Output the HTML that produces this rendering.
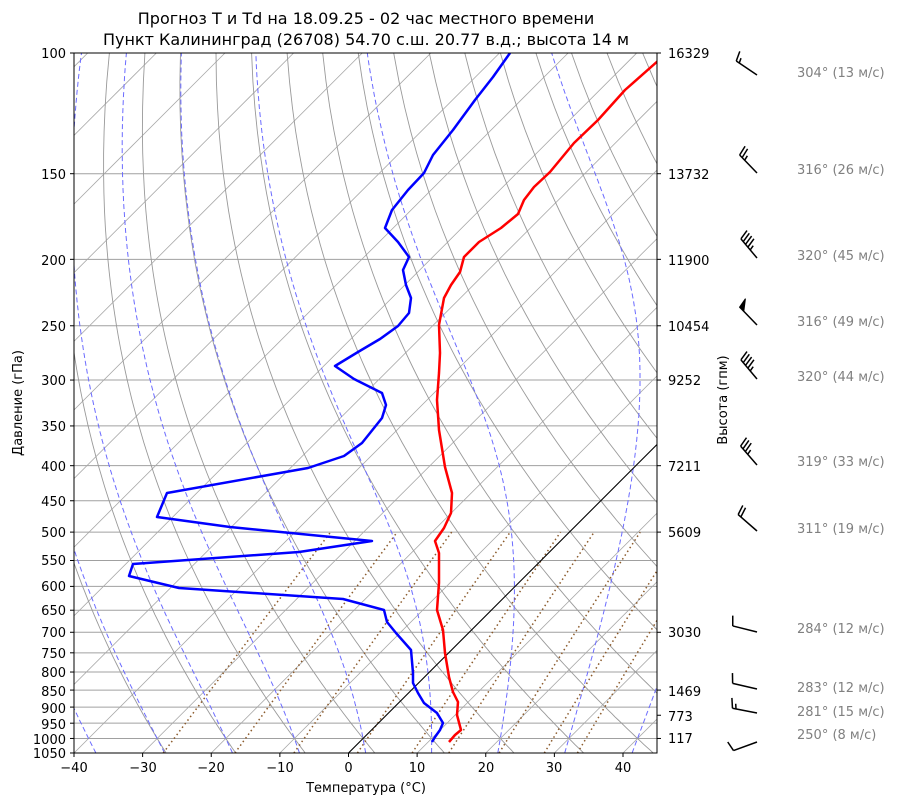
<!DOCTYPE html>
<html><head><meta charset="utf-8"><style>
body{margin:0;background:#fff;width:900px;height:806px;overflow:hidden}
svg{display:block;font-family:"DejaVu Sans","Liberation Sans",sans-serif}
</style></head><body>
<svg id="s" width="900" height="806" viewBox="0 0 900 806" xmlns="http://www.w3.org/2000/svg">
<defs><clipPath id="c"><rect x="74" y="53" width="583" height="700"/></clipPath></defs>
<g id="bg" clip-path="url(#c)"></g>
<g clip-path="url(#c)" fill="none" stroke-width="2.5" stroke-linejoin="round">
<polyline stroke="#0000ff" points="510,53 493,77 475,100 453,130 433,155 424,173 408,190 392,210 385,228 398,242 409,257 403,270 406,285 411,298 409,313 398,326 380,339 358,352 335,366 354,379 376,390 382,393 386,405 382,418 362,443 344,456 308,468 167,493 157,517 230,527 372,541 299,552 133,564 129,576 179,588 343,599 384,610 387,622 396,633 411,650 413,673 413,683 418,693 424,703 437,713 443,723 440,730 435,737 432,742"/>
<polyline stroke="#ff0000" points="659,60 625,90 598,120 574,143 550,172 534,187 524,200 518,214 501,228 479,242 464,257 460,272 451,285 444,298 439,325 440,353 439,373 437,400 439,430 445,467 452,493 451,513 444,528 435,541 439,553 439,583 437,610 443,630 445,653 449,677 453,692 458,702 457,715 461,730 455,735 449,742"/>
</g>
<rect x="74" y="53" width="583" height="700" fill="none" stroke="#000" stroke-width="1"/>
<g id="ticks" stroke="#000" stroke-width="1"></g>
<g font-size="13" fill="#000">
<g text-anchor="end">
<text x="66" y="58">100</text><text x="66" y="179">150</text><text x="66" y="265">200</text><text x="66" y="331">250</text><text x="66" y="385">300</text><text x="66" y="431">350</text><text x="66" y="471">400</text><text x="66" y="506">450</text><text x="66" y="537">500</text><text x="66" y="565">550</text><text x="66" y="591">600</text><text x="66" y="615">650</text><text x="66" y="637">700</text><text x="66" y="658">750</text><text x="66" y="677">800</text><text x="66" y="696">850</text><text x="66" y="713">900</text><text x="66" y="729">950</text><text x="66" y="744">1000</text><text x="66" y="758">1050</text>
</g>
<g text-anchor="start">
<text x="668" y="58">16329</text><text x="668" y="179">13732</text><text x="668" y="265">11900</text><text x="668" y="331">10454</text><text x="668" y="385">9252</text><text x="668" y="471">7211</text><text x="668" y="537">5609</text><text x="668" y="637">3030</text><text x="668" y="696">1469</text><text x="668" y="721">773</text><text x="668" y="743">117</text>
</g>
<g text-anchor="middle">
<text x="74" y="772">−40</text><text x="143" y="772">−30</text><text x="211" y="772">−20</text><text x="280" y="772">−10</text><text x="348.5" y="772">0</text><text x="417" y="772">10</text><text x="486" y="772">20</text><text x="554" y="772">30</text><text x="623" y="772">40</text>
<text x="366" y="792">Температура (°C)</text>
<text x="22" y="403" transform="rotate(-90 22 403)">Давление (гПа)</text>
<text x="727" y="400" transform="rotate(-90 727 400)">Высота (гпм)</text>
</g>
<g font-size="16" text-anchor="middle">
<text x="366" y="24">Прогноз T и Td на 18.09.25 - 02 час местного времени</text>
<text x="366" y="45">Пункт Калининград (26708) 54.70 с.ш. 20.77 в.д.; высота 14 м</text>
</g>
<g fill="#808080" text-anchor="start">
<text x="797" y="77">304° (13 м/с)</text><text x="797" y="174">316° (26 м/с)</text><text x="797" y="260">320° (45 м/с)</text><text x="797" y="326">316° (49 м/с)</text><text x="797" y="381">320° (44 м/с)</text><text x="797" y="466">319° (33 м/с)</text><text x="797" y="533">311° (19 м/с)</text><text x="797" y="633">284° (12 м/с)</text><text x="797" y="692">283° (12 м/с)</text><text x="797" y="716">281° (15 м/с)</text><text x="797" y="739">250° (8 м/с)</text>
</g>
</g>
<g id="barbs" stroke="#000" stroke-width="1.5" fill="#000"></g>
</svg>
<script>
(function(){
function Y(p){return 53+297.69*Math.log(p/100);}
function X(T,p){return 348.5+6.8625*T+(753-Y(p));}
var bg=document.getElementById('bg'),h='';
function pl(pts,st){return '<polyline fill="none" points="'+pts.map(function(a){return a[0].toFixed(1)+','+a[1].toFixed(1)}).join(' ')+'" '+st+'/>';}
var ps=[100,150,200,250,300,350,400,450,500,550,600,650,700,750,800,850,900,950,1000,1050];
ps.forEach(function(p){var y=Y(p);h+='<line x1="74" x2="657" y1="'+y+'" y2="'+y+'" stroke="#a0a0a0" stroke-width="1"/>';});
for(var T=-150;T<=40;T+=10){h+='<line x1="'+X(T,1050)+'" y1="753" x2="'+X(T,100)+'" y2="53" stroke="#a8a8a8" stroke-width="0.8"/>';}
for(var th=243.15;th<=480;th+=10){var a=[];for(var p=1050;p>=100;p-=10){var t=th*Math.pow(p/1000,0.2857)-273.15;a.push([X(t,p),Y(p)]);}h+=pl(a,'stroke="#999" stroke-width="0.9"');}
function es(tc){return 6.112*Math.exp(17.67*tc/(tc+243.5));}
function dTdp(T,p){var e=es(T-273.15);var rs=0.622*e/(p-e);return (287.04*T+2.501e6*rs)/(p*(1005.7+2.501e6*2.501e6*rs*0.622/(287.04*T*T)));}
for(var t0=-40;t0<=40;t0+=10){
 var T=t0+273.15,p=1000,up=[],dn=[];
 var Tt=T;for(var q=1000;q<1050;q+=2){var k=dTdp(Tt,q);Tt+=k*2;}dn.push([X(Tt-273.15,1050),753]);
 for(p=1000;p>=100;p-=2){up.push([X(T-273.15,p),Y(p)]);var k1=dTdp(T,p);var k2=dTdp(T-k1*1,p-1);T-=k2*2;}
 h+=pl(dn.concat(up),'stroke="#6b6bff" stroke-width="1" stroke-dasharray="5,3"');
}
[0.0004,0.001,0.002,0.004,0.007,0.01,0.016,0.024,0.032].forEach(function(w){var a=[];for(var p=1050;p>=500;p-=10){var e=w*p/(0.622+w);var l=Math.log(e/6.112);var td=243.5*l/(17.67-l);a.push([X(td,p),Y(p)]);}h+=pl(a,'stroke="#8b5a2b" stroke-width="1.5" stroke-dasharray="1.5,3"');});
h+='<line x1="'+X(0,1050)+'" y1="753" x2="'+X(0,100)+'" y2="53" stroke="#000" stroke-width="1.1"/>';
bg.innerHTML=h;
var tk='';ps.forEach(function(p){var y=Y(p);tk+='<line x1="70" x2="74" y1="'+y+'" y2="'+y+'"/>';});
[100,150,200,250,300,400,500,700,850,925,1000].forEach(function(p){var y=Y(p);tk+='<line x1="657" x2="661" y1="'+y+'" y2="'+y+'"/>';});
for(var T=-40;T<=40;T+=10){var x=348.5+6.8625*T;tk+='<line x1="'+x+'" x2="'+x+'" y1="753" y2="757"/>';}
document.getElementById('ticks').innerHTML=tk;
var bb=[[75,304,15],[173,316,25],[258,320,45],[325,316,50],[379,320,45],[465,319,35],[531,311,20],[632,284,10],[689,283,10],[713,281,15],[742,250,10]];
var bs='';bb.forEach(function(b){var bx=757,by=b[0],d=b[1]*Math.PI/180,L=25;var dx=Math.sin(d),dy=-Math.cos(d);var tx=bx+dx*L,ty=by+dy*L;bs+='<line x1="'+bx+'" y1="'+by+'" x2="'+tx+'" y2="'+ty+'"/>';
 var px=-dy,py=dx;
 if(py>0){px=-px;py=-py;}
 var s=b[2],pos=0,sp=3.6;
 function bar(len){var sx=tx-dx*pos,sy=ty-dy*pos;bs+='<line x1="'+sx+'" y1="'+sy+'" x2="'+(sx+px*len+dx*len*0.25)+'" y2="'+(sy+py*len+dy*len*0.25)+'"/>';pos+=sp;}
 while(s>=50){var sx=tx,sy=ty;bs+='<polygon points="'+sx+','+sy+' '+(sx+px*10+dx*2)+','+(sy+py*10+dy*2)+' '+(sx-dx*6)+','+(sy-dy*6)+'" stroke-width="1"/>';pos+=7;s-=50;}
 while(s>=10){bar(10);s-=10;}
 if(s>=5){if(pos==0)pos=sp;bar(5);}
});
document.getElementById('barbs').innerHTML=bs;
})();
</script>
</body></html>
